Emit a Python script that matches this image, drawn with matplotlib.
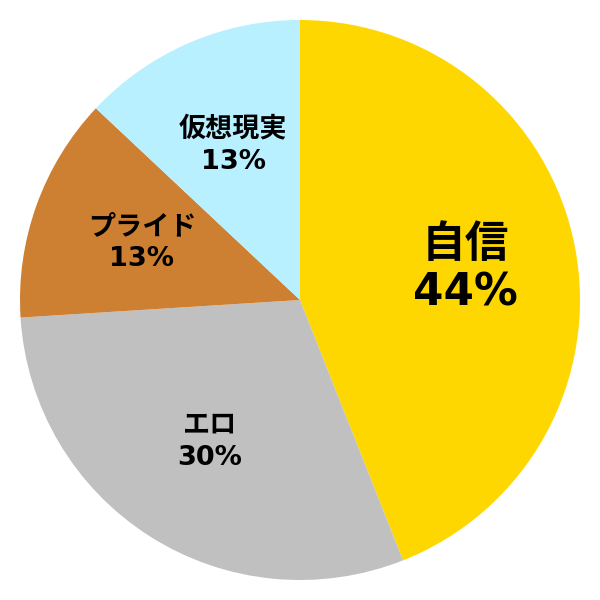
import numpy as np
import matplotlib.pyplot as plt

plt.rcParams['font.family'] = ['DejaVu Sans', 'Noto Sans CJK JP']

labels = ['自信', 'エロ', 'プライド', '仮想現実']
values = [44, 30, 13, 13]
colors = ['#FFD700', '#C0C0C0', '#CD7F32', '#B8F0FF']
sizes = [31.5, 19.5, 19.5, 19.5]

fig = plt.figure(figsize=(6, 6), dpi=100)
ax = fig.add_axes([0, 0, 1, 1])
wedges, _ = ax.pie(values, colors=colors, startangle=90, counterclock=False,
                   radius=1.0, wedgeprops=dict(linewidth=0))

for w, lab, v, fs in zip(wedges, labels, values, sizes):
    ang = np.deg2rad((w.theta1 + w.theta2) / 2)
    x = 0.6 * np.cos(ang)
    y = 0.6 * np.sin(ang)
    ax.text(x, y, lab + '\n' + str(v) + '%', ha='center', va='center',
            fontsize=fs, fontweight='bold',
            linespacing=1.15 if fs > 25 else 1.3)

lim = 300 / 280
ax.set_xlim(-lim, lim)
ax.set_ylim(-lim, lim)
ax.set_aspect('equal')
ax.axis('off')
plt.savefig('out.png', dpi=100)
